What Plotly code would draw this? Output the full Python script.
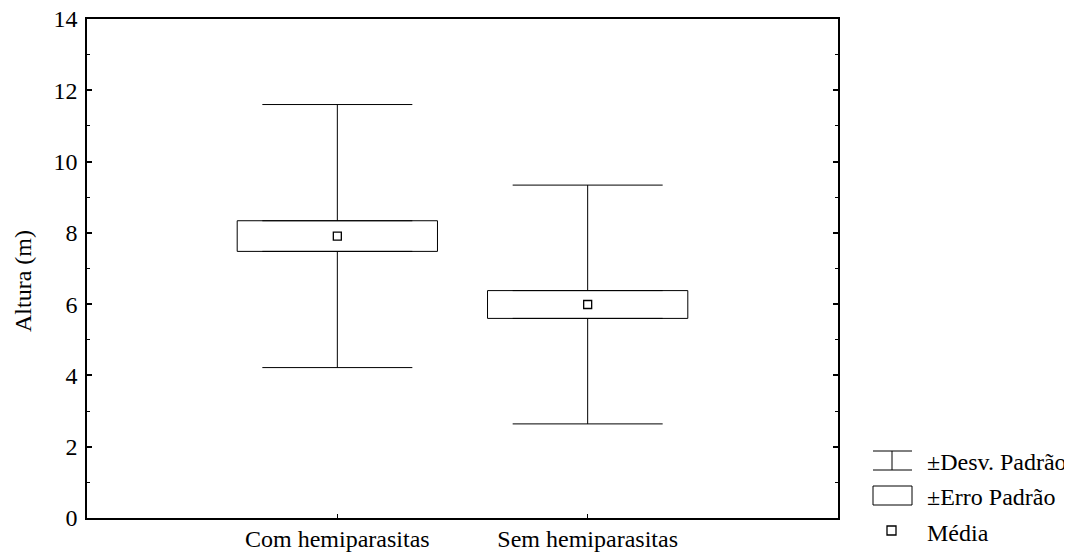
import plotly.graph_objects as go

categories = ["Com hemiparasitas", "Sem hemiparasitas"]
means = [7.91, 5.99]
std_err = [0.43, 0.39]
std_dev = [3.69, 3.35]
y_ticks = [0, 2, 4, 6, 8, 10, 12, 14]
legend_labels = ["\u00b1Desv. Padr\u00e3o", "\u00b1Erro Padr\u00e3o", "M\u00e9dia"]
y_title = "Altura (m)"

FONT = "Liberation Serif, Times New Roman, serif"
FS = 24

# page offset caused by the default body margin
OX, OY = 8, 8
W, H = 1072 - OX, 552 - OY
PLOT_L, PLOT_T, PLOT_R, PLOT_B = 87, 19, 838, 518  # in page pixels
ML = PLOT_L - OX
MT = PLOT_T - OY
PW = PLOT_R - PLOT_L
PH = PLOT_B - PLOT_T
MR = W - ML - PW
MB = H - MT - PH


def px(xpage):
    return (xpage - PLOT_L) / PW


def py(ypage):
    return (PLOT_B - ypage) / PH


fig = go.Figure()

# box: +/- standard error
fig.add_trace(go.Bar(
    x=categories,
    y=[2 * s for s in std_err],
    base=[m - s for m, s in zip(means, std_err)],
    width=0.8,
    marker=dict(color="white", line=dict(color="black", width=1)),
    showlegend=False,
    hoverinfo="skip",
))

# upper whiskers (from box top to mean + sd)
fig.add_trace(go.Scatter(
    x=categories,
    y=[m + s for m, s in zip(means, std_err)],
    mode="markers",
    marker=dict(size=1, color="rgba(0,0,0,0)"),
    error_y=dict(type="data", symmetric=False,
                 array=[d - s for d, s in zip(std_dev, std_err)],
                 arrayminus=[0, 0], width=75, thickness=1, color="black"),
    showlegend=False,
    hoverinfo="skip",
))
# lower whiskers (from box bottom to mean - sd)
fig.add_trace(go.Scatter(
    x=categories,
    y=[m - s for m, s in zip(means, std_err)],
    mode="markers",
    marker=dict(size=1, color="rgba(0,0,0,0)"),
    error_y=dict(type="data", symmetric=False,
                 array=[0, 0],
                 arrayminus=[d - s for d, s in zip(std_dev, std_err)],
                 width=75, thickness=1, color="black"),
    showlegend=False,
    hoverinfo="skip",
))
# means
fig.add_trace(go.Scatter(
    x=categories,
    y=means,
    mode="markers",
    marker=dict(symbol="square", size=8, color="white",
                line=dict(color="black", width=1.3)),
    showlegend=False,
))

# manual legend
shapes = [
    dict(type="line", xref="paper", yref="paper", x0=px(873), x1=px(912), y0=py(451), y1=py(451),
         line=dict(color="black", width=1)),
    dict(type="line", xref="paper", yref="paper", x0=px(873), x1=px(912), y0=py(470), y1=py(470),
         line=dict(color="black", width=1)),
    dict(type="line", xref="paper", yref="paper", x0=px(892), x1=px(892), y0=py(451), y1=py(470),
         line=dict(color="black", width=1)),
    dict(type="rect", xref="paper", yref="paper", x0=px(873), x1=px(912), y0=py(486), y1=py(505),
         line=dict(color="black", width=1), fillcolor="white"),
    dict(type="rect", xref="paper", yref="paper", x0=px(887), x1=px(896), y0=py(526), y1=py(535),
         line=dict(color="black", width=1.3), fillcolor="white"),
]
annotations = [
    dict(text=legend_labels[0], x=px(925), y=py(462), xref="paper", yref="paper",
         xanchor="left", yanchor="middle", showarrow=False, font=dict(family=FONT, size=FS, color="black")),
    dict(text=legend_labels[1], x=px(925), y=py(497), xref="paper", yref="paper",
         xanchor="left", yanchor="middle", showarrow=False, font=dict(family=FONT, size=FS, color="black")),
    dict(text=legend_labels[2], x=px(925), y=py(533), xref="paper", yref="paper",
         xanchor="left", yanchor="middle", showarrow=False, font=dict(family=FONT, size=FS, color="black")),
    dict(text=y_title, x=px(23), y=py(281), xref="paper", yref="paper", textangle=-90,
         xanchor="center", yanchor="middle", showarrow=False, font=dict(family=FONT, size=FS, color="black")),
]

fig.update_layout(
    width=W, height=H,
    margin=dict(l=ML, r=MR, t=MT, b=MB, autoexpand=False),
    paper_bgcolor="white", plot_bgcolor="white",
    font=dict(family=FONT, size=FS, color="black"),
    shapes=shapes, annotations=annotations,
    showlegend=False,
)
fig.update_xaxes(
    type="category", range=[-1, 2], automargin=False,
    showgrid=False, zeroline=False,
    showline=True, linecolor="black", linewidth=1.5, mirror=True,
    ticks="inside", ticklen=4, tickcolor="black", tickwidth=1,
    ticklabeloverflow="allow", ticklabelstandoff=-2,
    tickfont=dict(family=FONT, size=FS, color="black"),
)
fig.update_yaxes(
    range=[0, 14], tickvals=y_ticks, automargin=False,
    showgrid=False, zeroline=False,
    showline=True, linecolor="black", linewidth=1.5, mirror="ticks",
    ticks="inside", ticklen=5, tickcolor="black", tickwidth=1.5,
    ticklabelstandoff=3, ticklabeloverflow="allow",
    minor=dict(dtick=1, ticks="inside", ticklen=3, tickcolor="black", tickwidth=1),
    tickfont=dict(family=FONT, size=FS, color="black"),
)

fig.write_html("out.html")
